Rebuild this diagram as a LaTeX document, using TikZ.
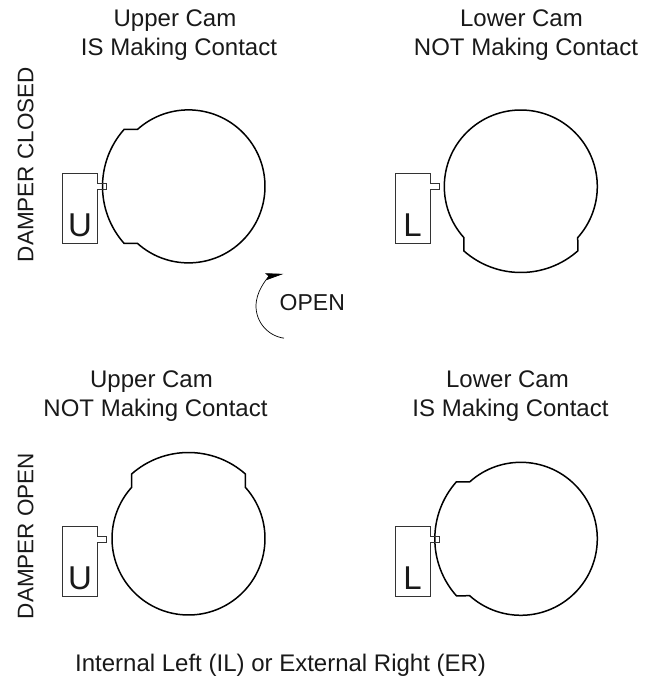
\documentclass[tikz,border=0pt]{standalone}
\usepackage{fontspec}
\setmainfont{Liberation Sans}
\usetikzlibrary{arrows.meta}
\tikzset{
  camline/.style={line width=1.5pt,black,line join=miter},
  boxline/.style={line width=0.7pt,black!80},
  title/.style={font=\fontsize{24}{28}\selectfont,anchor=base,inner sep=0pt,text=black!90},
  side/.style={title,font=\fontsize{22.5}{26}\selectfont,rotate=90},
  letter/.style={font=\fontsize{33}{36}\selectfont,inner sep=0pt,text=black!90},
  cam/.pic={
    \draw[camline] (131.9:76.5pt) arc[start angle=131.9,end angle=-131.9,radius=76.5pt]
      -- (221.5:86pt) arc[start angle=221.5,end angle=138.5,radius=86pt] -- cycle;
  },
  follower/.pic={
    \draw[boxline] (0pt,0pt) -- (35pt,0pt) -- (35pt,-10.5pt) -- (44pt,-10.5pt) -- (44pt,-16.2pt)
      -- (35pt,-16.2pt) -- (35pt,-70pt) -- (0pt,-70pt) -- cycle;
  }
}
\begin{document}
\begin{tikzpicture}[x=1pt,y=1pt]
\useasboundingbox (0,0) rectangle (652,681);
% cams (y measured from the bottom of the page)
\pic at (188.5,494.6) {cam};
\pic[rotate=90] at (520.8,494.5) {cam};
\pic[rotate=-90] at (188.5,142.5) {cam};
\pic at (520.8,142.2) {cam};
% followers
\pic at (62.7,507.7) {follower};
\pic at (395.3,507.7) {follower};
\pic at (62.7,154.7) {follower};
\pic at (395.3,154.7) {follower};
% letters
\node[letter] (u1) at (80,455.5) {U};
\node[letter] (l1) at (412.5,455.5) {L};
\node[letter] (u2) at (80,102.5) {U};
\node[letter] (l2) at (412.5,102.5) {L};
% titles
\node[title] (t1a) at (175,654.3) {Upper Cam};
\node[title] (t1b) at (179,625.5) {IS Making Contact};
\node[title] (t2a) at (521.5,654.3) {Lower Cam};
\node[title] (t2b) at (526,625.5) {NOT Making Contact};
\node[title] (t3a) at (151.5,293.5) {Upper Cam};
\node[title] (t3b) at (155.5,264.5) {NOT Making Contact};
\node[title] (t4a) at (507.5,293.5) {Lower Cam};
\node[title] (t4b) at (510.5,264.5) {IS Making Contact};
\node[side] (s1) at (33.5,516.5) {DAMPER CLOSED};
\node[side] (s2) at (33.5,145) {DAMPER OPEN};
\node[title,font=\fontsize{23}{27}\selectfont,anchor=base west] (open) at (279.5,370.5) {OPEN};
\node[title,anchor=base west] (foot) at (75,9.3) {Internal Left (IL) or External Right (ER)};
% rotation arrow
\draw[line width=0.7pt,black,-{Stealth[length=18pt,width=7pt,inset=3pt]}]
  (262:32.5pt) ++(288.5,375) arc[start angle=262,end angle=99,radius=32.5pt];
\end{tikzpicture}
\end{document}
